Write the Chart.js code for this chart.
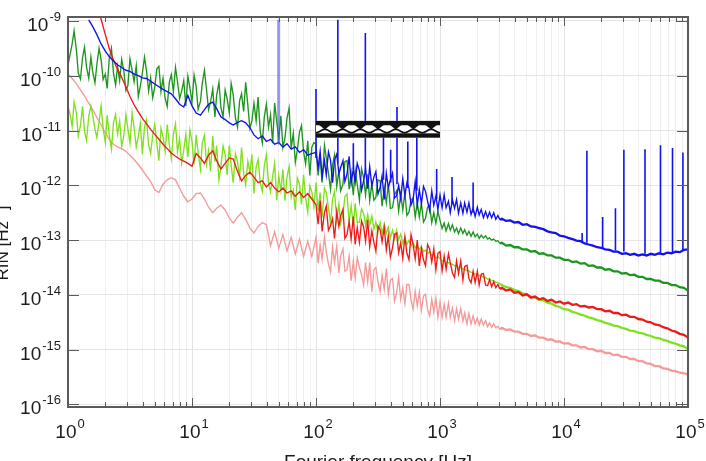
<!DOCTYPE html>
<html>
<head>
<meta charset="utf-8">
<script src="https://cdn.jsdelivr.net/npm/chart.js@4.4.1/dist/chart.umd.min.js"></script>
<style>
  html, body { margin: 0; padding: 0; background: #fff; }
  #wrap { width: 706px; height: 461px; }
</style>
</head>
<body>
<div id="wrap"><canvas id="rin-chart" width="706" height="461"></canvas></div>
<script>
"use strict";

// Fourier frequency grids (Hz)
const freqLowCoarse = [
  1, 1.08, 1.17, 1.26, 1.36, 1.47, 1.58, 1.71, 1.85, 2, 2.15, 2.33, 2.51, 2.71, 2.93, 3.16, 3.41, 3.69, 3.98, 4.3, 4.64, 5.01, 5.41, 5.84, 6.31, 6.81, 7.36, 7.94, 8.58, 9.26,
  10, 10.8, 11.7, 12.6, 13.6, 14.7, 15.8, 17.1, 18.5, 20, 21.5, 23.3, 25.1, 27.1, 29.3, 31.6, 34.1, 36.9, 39.8, 43, 46.4, 50.1, 54.1, 58.4, 63.1, 68.1, 73.6, 79.4, 85.8, 92.6,
];
const freqLowDense = [
  1, 1.04, 1.08, 1.12, 1.17, 1.21, 1.26, 1.31, 1.36, 1.41, 1.47, 1.53, 1.58, 1.65, 1.71, 1.78, 1.85, 1.92, 2, 2.07, 2.15, 2.24, 2.33, 2.42, 2.51, 2.61, 2.71, 2.82, 2.93, 3.04,
  3.16, 3.29, 3.41, 3.55, 3.69, 3.83, 3.98, 4.14, 4.3, 4.47, 4.64, 4.82, 5.01, 5.21, 5.41, 5.62, 5.84, 6.07, 6.31, 6.56, 6.81, 7.08, 7.36, 7.64, 7.94, 8.25, 8.58, 8.91, 9.26, 9.62,
  10, 10.4, 10.8, 11.2, 11.7, 12.1, 12.6, 13.1, 13.6, 14.1, 14.7, 15.3, 15.8, 16.5, 17.1, 17.8, 18.5, 19.2, 20, 20.7, 21.5, 22.4, 23.3, 24.2, 25.1, 26.1, 27.1, 28.2, 29.3, 30.4,
  31.6, 32.9, 34.1, 35.5, 36.9, 38.3, 39.8, 41.4, 43, 44.7, 46.4, 48.2, 50.1, 52.1, 54.1, 56.2, 58.4, 60.7, 63.1, 65.6, 68.1, 70.8, 73.6, 76.4, 79.4, 82.5, 85.8, 89.1, 92.6, 96.2,
];
const freqHigh = [
  100, 104, 108, 112, 117, 121, 126, 131, 136, 141, 147, 153, 158, 165, 171, 178, 185, 192, 200, 207, 215, 224, 233, 242, 251, 261, 271, 282, 293, 304,
  316, 329, 341, 355, 369, 383, 398, 414, 430, 447, 464, 482, 501, 521, 541, 562, 584, 607, 631, 656, 681, 708, 736, 764, 794, 825, 858, 891, 926, 962,
  1000, 1040, 1080, 1120, 1170, 1210, 1260, 1310, 1360, 1410, 1470, 1530, 1580, 1650, 1710, 1780, 1850, 1920, 2000, 2070, 2150, 2240, 2330, 2420, 2510, 2610, 2710, 2820, 2930, 3040,
  3160, 3410, 3690, 3980, 4300, 4640, 5010, 5410, 5840, 6310, 6810, 7360, 7940, 8580, 9260,
  10000, 10800, 11700, 12600, 13600, 14700, 15800, 17100, 18500, 20000, 21500, 23300, 25100, 27100, 29300,
  31600, 34100, 36900, 39800, 43000, 46400, 50100, 54100, 58400, 63100, 68100, 73600, 79400, 85800, 92600, 100000,
];
const freqHz = freqLowCoarse.concat(freqHigh);
const freqHzDense = freqLowDense.concat(freqHigh);

// RIN values, stored as log10(RIN / Hz^-1)
const blueLog = [
  null, null, null, null, null, -8.98, -9.1, -9.25, -9.42, -9.55, -9.65, -9.73, -9.8, -9.85, -9.9, -9.92, -9.97, -10.0, -10.04, -10.05, -10.1, -10.15, -10.2, -10.25, -10.29, -10.33, -10.42, -10.52, -10.57, -10.36,
  -10.55, -10.68, -10.72, -10.62, -10.52, -10.48, -10.6, -10.75, -10.8, -10.86, -10.9, -10.85, -10.82, -10.86, -10.95, -11.08, -11.15, -11.1, -11.2, -11.16, -11.25, -11.22, -11.3, -11.24, -11.34, -11.3, -11.4, -11.35, -11.45, -11.42,
  -11.4, -11.68, -11.38, -11.84, -11.55, -11.81, -11.39, -11.54, -11.95, -11.54, -11.43, -11.79, -11.68, -11.55, -11.93, -11.79, -11.47, -11.96, -11.7, -11.94, -11.6, -11.73, -12.09, -11.92, -11.7, -12.06, -11.66, -12.01, -11.85, -11.75,
  -12.16, -12.04, -11.83, -12.26, -11.78, -12.04, -11.9, -11.78, -12.23, -12.19, -12.0, -12.24, -11.88, -12.19, -11.95, -12.05, -12.36, -12.26, -11.93, -12.36, -12.08, -12.34, -12.02, -12.11, -12.29, -12.46, -12.1, -12.36, -12.2, -12.44,
  -12.18, -12.41, -12.17, -12.41, -12.29, -12.5, -12.26, -12.42, -12.26, -12.51, -12.32, -12.51, -12.32, -12.49, -12.32, -12.53, -12.41, -12.57, -12.4, -12.54, -12.44, -12.59, -12.48, -12.59, -12.49, -12.59, -12.5, -12.62, -12.55, -12.63,
  -12.61, -12.65, -12.64, -12.68, -12.67, -12.72, -12.71, -12.75, -12.76, -12.78, -12.8, -12.84, -12.86, -12.87, -12.92,
  -12.93, -12.96, -12.98, -13.01, -13.02, -13.06, -13.08, -13.1, -13.13, -13.14, -13.17, -13.18, -13.21, -13.21, -13.25,
  -13.24, -13.27, -13.25, -13.28, -13.26, -13.28, -13.25, -13.27, -13.24, -13.26, -13.23, -13.24, -13.21, -13.22, -13.18, -13.17,
];

const greenLog = [
  -9.8, -9.61, -9.42, -9.18, -9.54, -9.95, -10.06, -9.67, -9.48, -9.84, -10.05, -9.66, -9.92, -10.13, -9.79, -9.5, -9.71, -10.07, -9.97, -10.23, -9.69, -9.5, -9.96, -10.17, -9.83, -10.09, -9.7, -9.91, -10.27, -10.18,
  -9.69, -9.9, -10.11, -9.82, -10.38, -10.19, -9.95, -9.66, -9.92, -10.28, -10.04, -10.4, -10.21, -9.87, -9.83, -10.29, -10.05, -10.41, -10.56, -10.12, -9.98, -10.29, -9.85, -10.11, -10.42, -10.28, -10.09, -10.55, -10.01, -10.22,
  -10.48, -9.99, -10.2, -10.61, -10.47, -10.14, -9.9, -10.26, -10.62, -10.48, -10.24, -10.75, -10.36, -10.12, -10.58, -10.75, -10.26, -10.42, -10.68, -10.14,
  -10.35, -10.77, -10.94, -10.46, -10.33, -10.65, -10.12, -10.54, -10.96, -10.83, -10.5, -10.82, -10.39, -11.01, -11.23, -10.75, -10.52, -10.94, -10.71, -11.23,
  -10.5, -10.83, -11.16, -10.73, -11.31, -11.14, -10.77, -10.59, -11.32, -11.05, -11.58, -11.35, -11.03, -10.91, -11.39, -11.61, -11.19, -11.82, -11.3, -11.22,
  -11.25, -11.82, -11.48, -11.95, -11.27, -11.5, -11.78, -12.07, -11.63, -11.45, -12.02, -11.73, -12.1, -11.98, -11.57, -11.55, -12.07, -11.78, -12.18, -11.72, -11.98, -12.27, -11.7, -11.86, -12.18, -11.8, -12.28, -11.97, -12.27, -12.22,
  -11.9, -11.92, -12.38, -12.05, -12.32, -11.98, -12.42, -12.41, -12.17, -12.1, -12.47, -12.16, -12.45, -12.14, -12.55, -12.49, -12.27, -12.23, -12.58, -12.32, -12.58, -12.33, -12.67, -12.6, -12.4, -12.37, -12.68, -12.5, -12.69, -12.48,
  -12.64, -12.79, -12.69, -12.83, -12.7, -12.82, -12.72, -12.85, -12.78, -12.88, -12.78, -12.88, -12.81, -12.91, -12.84, -12.93, -12.85, -12.94, -12.89, -12.97, -12.91, -12.96, -12.92, -12.98, -12.96, -13.0, -12.98, -13.02, -13.01, -13.06,
  -13.05, -13.1, -13.09, -13.13, -13.13, -13.17, -13.17, -13.21, -13.2, -13.25, -13.24, -13.28, -13.28, -13.32, -13.32,
  -13.36, -13.36, -13.4, -13.39, -13.43, -13.42, -13.47, -13.46, -13.5, -13.5, -13.54, -13.53, -13.57, -13.57, -13.61,
  -13.6, -13.64, -13.63, -13.67, -13.67, -13.71, -13.71, -13.74, -13.74, -13.78, -13.78, -13.82, -13.82, -13.86, -13.87, -13.92,
];

const redLog = [
  null, null, null, null, null, null, null, -8.75, -8.97, -9.25, -9.5, -9.72, -9.88, -10.03, -10.2, -10.38, -10.53, -10.66, -10.78, -10.88, -10.98, -11.07, -11.16, -11.25, -11.33, -11.41, -11.47, -11.52, -11.56, -11.6,
  -11.65, -11.42, -11.5, -11.6, -11.45, -11.37, -11.55, -11.7, -11.6, -11.5, -11.52, -11.75, -11.92, -11.82, -11.76, -11.85, -11.95, -11.92, -12.03, -11.95, -12.05, -12.12, -12.05, -12.14, -12.1, -12.2, -12.12, -12.22, -12.15, -12.25,
  -12.35, -12.71, -12.28, -12.84, -12.5, -12.38, -12.82, -12.74, -12.61, -12.97, -12.48, -12.75, -12.56, -12.44, -12.97, -12.9, -12.66, -12.98, -12.57, -13.08, -12.77, -13.04, -12.65, -12.76, -13.02, -12.63, -13.12, -12.83, -13.04, -13.2,
  -12.74, -12.81, -13.03, -12.77, -13.18, -12.92, -13.31, -13.14, -12.89, -12.87, -13.23, -13.05, -13.33, -12.94, -13.24, -13.36, -12.9, -13.08, -13.34, -13.0, -13.47, -13.15, -13.36, -13.47, -13.08, -13.16, -13.4, -13.16, -13.54, -13.24,
  -13.21, -13.56, -13.29, -13.53, -13.25, -13.41, -13.6, -13.68, -13.38, -13.61, -13.38, -13.73, -13.48, -13.46, -13.7, -13.78, -13.57, -13.77, -13.57, -13.82, -13.62, -13.61, -13.82, -13.83, -13.72, -13.85, -13.76, -13.87, -13.81, -13.89,
  -13.87, -13.92, -13.9, -13.96, -13.95, -14.01, -13.99, -14.05, -14.03, -14.08, -14.06, -14.11, -14.09, -14.14, -14.12,
  -14.16, -14.14, -14.18, -14.17, -14.21, -14.2, -14.23, -14.22, -14.26, -14.26, -14.3, -14.29, -14.33, -14.33, -14.37,
  -14.36, -14.4, -14.4, -14.44, -14.45, -14.49, -14.5, -14.54, -14.55, -14.59, -14.61, -14.65, -14.67, -14.71, -14.73, -14.78,
];

const limeLog = [
  -10.55, -10.71, -10.92, -10.48, -10.69, -11.1, -10.91, -10.56, -11.02, -11.18, -10.74, -10.55, -10.71, -10.97, -11.13, -10.84, -10.55, -10.96, -11.22, -10.72, -11.08, -11.34, -10.85, -10.71, -11.07, -10.83, -11.29, -11.1, -10.71, -10.97,
  -11.23, -10.68, -10.94, -11.3, -11.11, -10.87, -11.43, -10.94, -10.8, -11.26, -11.42, -11.08, -10.89, -11.24, -11.55, -10.96, -11.12, -11.38, -10.89, -11.25, -11.51, -11.07, -10.88, -11.39, -11.15, -11.6, -11.36, -11.07, -11.48, -10.99,
  -11.2, -11.62, -11.08, -11.4, -11.71, -11.23, -11.09, -11.61, -11.37, -11.74, -11.1, -11.57, -11.28, -11.9, -11.66, -11.28, -11.44, -11.81, -11.27, -11.64,
  -11.95, -11.42, -11.58, -11.85, -11.31, -11.78, -11.99, -11.56, -11.77, -11.44, -12.15, -11.67, -11.53, -11.95, -12.11, -11.63, -11.44, -11.96, -12.12, -11.84,
  -11.6, -12.27, -11.83, -12.1, -11.71, -12.28, -11.84, -11.66, -12.22, -12.09, -12.45, -11.87, -11.98, -12.35, -11.81, -12.23, -12.49, -12.01, -12.12, -12.39,
  -11.95, -12.46, -12.13, -12.59, -12.05, -12.13, -12.41, -12.69, -12.25, -12.11, -12.63, -12.34, -12.7, -12.53, -12.21, -12.16, -12.67, -12.37, -12.74, -12.33, -12.68, -12.67, -12.43, -12.51, -12.73, -12.53, -12.72, -12.56, -12.8, -12.67,
  -12.86, -12.68, -12.88, -12.7, -12.88, -12.76, -12.96, -12.82, -12.98, -12.82, -12.99, -12.89, -13.06, -12.95, -13.08, -13.0, -13.1, -13.05, -13.14, -13.09, -13.17, -13.12, -13.21, -13.18, -13.25, -13.21, -13.28, -13.26, -13.33, -13.3,
  -13.34, -13.38, -13.37, -13.41, -13.41, -13.44, -13.44, -13.47, -13.47, -13.5, -13.5, -13.53, -13.53, -13.56, -13.56, -13.59, -13.59, -13.62, -13.62, -13.65, -13.65, -13.68, -13.68, -13.71, -13.71, -13.74, -13.74, -13.77, -13.77, -13.8,
  -13.82, -13.86, -13.87, -13.91, -13.93, -13.97, -13.99, -14.03, -14.05, -14.09, -14.1, -14.14, -14.16, -14.2, -14.22,
  -14.26, -14.27, -14.31, -14.33, -14.36, -14.38, -14.41, -14.43, -14.46, -14.48, -14.51, -14.53, -14.56, -14.57, -14.6,
  -14.62, -14.65, -14.66, -14.69, -14.7, -14.73, -14.75, -14.78, -14.79, -14.82, -14.84, -14.87, -14.89, -14.92, -14.94, -14.99,
];

const pinkLog = [
  -9.97, -10.05, -10.15, -10.26, -10.37, -10.5, -10.62, -10.76, -10.9, -11.04, -11.16, -11.25, -11.3, -11.33, -11.38, -11.45, -11.53, -11.62, -11.72, -11.83, -11.93, -12.08, -12.13, -11.98, -11.9, -11.86, -11.9, -12.05, -12.2, -12.3,
  -12.25, -12.15, -12.14, -12.25, -12.4, -12.5, -12.42, -12.36, -12.45, -12.6, -12.69, -12.58, -12.5, -12.62, -12.78, -12.87, -12.75, -12.68, -12.72, -13.1, -12.85, -13.15, -12.9, -13.2, -12.95, -13.25, -12.98, -13.3, -13.02, -13.3,
  -12.95, -13.42, -13.09, -13.35, -12.94, -13.21, -13.44, -13.58, -13.12, -13.41, -13.11, -13.6, -13.29, -13.16, -13.57, -13.54, -13.29, -13.74, -13.38, -13.7, -13.32, -13.5, -13.63, -13.82, -13.41, -13.76, -13.41, -13.94, -13.54, -13.5,
  -13.76, -13.94, -13.64, -13.9, -13.52, -13.99, -13.73, -13.7, -14.11, -13.96, -13.68, -14.08, -13.87, -14.16, -13.81, -13.81, -14.09, -14.26, -13.93, -14.2, -13.95, -14.28, -14.02, -13.99, -14.27, -14.38, -14.08, -14.31, -14.06, -14.41,
  -14.13, -14.41, -14.17, -14.41, -14.15, -14.41, -14.24, -14.47, -14.25, -14.44, -14.25, -14.48, -14.33, -14.53, -14.34, -14.53, -14.38, -14.53, -14.42, -14.55, -14.44, -14.55, -14.47, -14.58, -14.51, -14.59, -14.53, -14.6, -14.57, -14.63,
  -14.6, -14.64, -14.63, -14.67, -14.67, -14.71, -14.71, -14.75, -14.74, -14.78, -14.78, -14.82, -14.81, -14.85, -14.85,
  -14.89, -14.88, -14.92, -14.92, -14.96, -14.95, -14.99, -14.99, -15.03, -15.02, -15.06, -15.06, -15.1, -15.09, -15.13,
  -15.13, -15.17, -15.17, -15.21, -15.21, -15.25, -15.26, -15.3, -15.3, -15.34, -15.35, -15.38, -15.39, -15.42, -15.43, -15.45,
];

// narrow lines on the blue trace (mains harmonics, high-frequency tones)
const spikeHz = [100, 150, 200, 250, 350, 400, 450, 550, 650, 940, 1250, 1850, 14000, 15300, 20500, 26000, 30400, 45000, 60000, 75000, 91000];
const spikeBaseLog = [-11.5, -11.6, -11.7, -11.75, -11.9, -11.95, -11.98, -12.05, -12.1, -12.25, -12.35, -12.5, -13.03, -13.05, -13.15, -13.19, -13.21, -13.25, -13.26, -13.25, -13.2];
const spikeTopLog = [-10.24, -8.98, -11.23, -9.22, -11.1, -11.35, -10.57, -11.2, -11.1, -11.7, -11.85, -11.95, -12.87, -11.37, -12.58, -12.42, -11.35, -11.34, -11.27, -11.32, -11.4];
const mainsHz = [50];
const mainsBaseLog = [-11.25];
const mainsTopLog = [-8.98];

// axis decades
const xTickExp = [0, 1, 2, 3, 4, 5];
const yTickExp = [-9, -10, -11, -12, -13, -14, -15, -16];

// waveguide sketch placed between these data coordinates
const insetHz = [100, 1000];
const insetRin = [1.5e-11, 7.4e-12];

const COLORS = {
  blue: "#1212ee",
  mains: "rgba(70, 70, 240, 0.55)",
  green: "#1e951e",
  red: "#ee1a1a",
  lime: "#80e01e",
  pink: "#f59a9a",
  frame: "#5a5a5a",
  text: "#1c1c1c",
};

function toPoints(freqs, logs) {
  if (logs.length !== freqs.length) {
    console.error("length mismatch", logs.length, freqs.length);
  }
  return freqs.map((f, i) => ({
    x: f,
    y: logs[i] === null || logs[i] === undefined ? null : Math.pow(10, logs[i]),
  }));
}

function toSpikes(freqs, bases, tops) {
  const pts = [];
  freqs.forEach((f, i) => {
    pts.push({ x: f, y: Math.pow(10, bases[i]) });
    pts.push({ x: f, y: Math.pow(10, tops[i]) });
    pts.push({ x: f, y: null });
  });
  return pts;
}

function isDecade(v) {
  const e = Math.log10(v);
  return Math.abs(e - Math.round(e)) < 1e-9;
}

function traceWidth(ctx) {
  return ctx.p0.parsed.x >= 3000 ? 2.3 : 1.35;
}

function trace(label, freqs, logs, color, order) {
  return {
    label,
    data: toPoints(freqs, logs),
    borderColor: color,
    borderWidth: 1.35,
    segment: { borderWidth: traceWidth },
    pointRadius: 0,
    tension: 0,
    spanGaps: false,
    order,
  };
}

const xGridValues = [];
xTickExp.forEach((e, k) => {
  if (k === xTickExp.length - 1) {
    xGridValues.push(Math.pow(10, e));
    return;
  }
  for (let m = 1; m <= 9; m++) xGridValues.push(m * Math.pow(10, e));
});

function line(ctx, x1, y1, x2, y2) {
  ctx.beginPath();
  ctx.moveTo(x1, y1);
  ctx.lineTo(x2, y2);
  ctx.stroke();
}

function drawPower(ctx, exp, x, y, align) {
  const base = "10";
  const sup = String(exp);
  ctx.font = "19px 'Liberation Sans', Arial, sans-serif";
  const wb = ctx.measureText(base).width;
  ctx.font = "13px 'Liberation Sans', Arial, sans-serif";
  const we = ctx.measureText(sup).width;
  const total = wb + we + 1;
  let left = x - total / 2;
  if (align === "right") left = x - total;
  ctx.textAlign = "left";
  ctx.textBaseline = "alphabetic";
  ctx.font = "19px 'Liberation Sans', Arial, sans-serif";
  ctx.fillText(base, left, y);
  ctx.font = "13px 'Liberation Sans', Arial, sans-serif";
  ctx.fillText(sup, left + wb + 1, y - 10);
}

function drawInset(ctx, xs, ys) {
  const x0 = xs.getPixelForValue(insetHz[0]);
  const x1 = xs.getPixelForValue(insetHz[1]);
  const y0 = ys.getPixelForValue(insetRin[0]);
  const y1 = ys.getPixelForValue(insetRin[1]);
  const w = x1 - x0;
  const h = y1 - y0;
  const period = w / 7;
  ctx.save();
  ctx.fillStyle = "#ffffff";
  ctx.fillRect(x0, y0, w, h);
  ctx.fillStyle = "#111";
  ctx.fillRect(x0, y0, w, h * 0.26);
  ctx.fillRect(x0, y1 - h * 0.26, w, h * 0.26);
  // teeth hanging from the top cladding
  for (let k = 0; k < 7; k++) {
    const cx = x0 + (k + 0.5) * period;
    ctx.beginPath();
    ctx.moveTo(cx - period * 0.32, y0 + h * 0.25);
    ctx.lineTo(cx + period * 0.32, y0 + h * 0.25);
    ctx.lineTo(cx, y0 + h * 0.52);
    ctx.closePath();
    ctx.fill();
  }
  // corrugated core line
  ctx.strokeStyle = "#111";
  ctx.lineWidth = 1.8;
  ctx.beginPath();
  const steps = 140;
  for (let s = 0; s <= steps; s++) {
    const px = x0 + (w * s) / steps;
    const ph = ((px - x0) / period) * Math.PI * 2;
    const py = y0 + h * 0.6 + Math.cos(ph) * h * 0.1;
    if (s === 0) ctx.moveTo(px, py);
    else ctx.lineTo(px, py);
  }
  ctx.stroke();
  ctx.restore();
}

const decorPlugin = {
  id: "decor",
  afterDatasetsDraw(chart) {
    const { ctx, scales } = chart;
    drawInset(ctx, scales.x, scales.y);
  },
  afterDraw(chart) {
    const { ctx, chartArea: a, scales } = chart;
    const xs = scales.x;
    const ys = scales.y;
    ctx.save();

    // inward tick marks
    ctx.strokeStyle = COLORS.frame;
    ctx.lineWidth = 1;
    xGridValues.forEach((v) => {
      const px = Math.round(xs.getPixelForValue(v)) + 0.5;
      const len = isDecade(v) ? 9 : 5;
      line(ctx, px, a.bottom, px, a.bottom - len);
      line(ctx, px, a.top, px, a.top + len);
    });
    yTickExp.forEach((e) => {
      const py = Math.round(ys.getPixelForValue(Math.pow(10, e))) + 0.5;
      line(ctx, a.left, py, a.left + 11, py);
      line(ctx, a.right, py, a.right - 11, py);
    });

    // frame
    ctx.lineWidth = 2;
    ctx.strokeRect(a.left, a.top, a.right - a.left, a.bottom - a.top);

    // tick labels
    ctx.fillStyle = COLORS.text;
    xTickExp.forEach((e) => {
      const px = xs.getPixelForValue(Math.pow(10, e));
      drawPower(ctx, e, px + 2, a.bottom + 31, "center");
    });
    yTickExp.forEach((e) => {
      const py = ys.getPixelForValue(Math.pow(10, e));
      drawPower(ctx, e, a.left - 7, py + 10, "right");
    });

    // axis titles (partly outside the canvas, as in the source figure)
    ctx.font = "19px 'Liberation Sans', Arial, sans-serif";
    ctx.textAlign = "center";
    ctx.textBaseline = "top";
    ctx.fillText("Fourier frequency [Hz]", (a.left + a.right) / 2, 453);

    ctx.save();
    ctx.translate(8, 243);
    ctx.rotate(-Math.PI / 2);
    ctx.textBaseline = "alphabetic";
    ctx.textAlign = "left";
    ctx.font = "17px 'Liberation Sans', Arial, sans-serif";
    const p1 = "RIN [Hz";
    const p2 = "-1";
    const p3 = "]";
    const w1 = ctx.measureText(p1).width;
    const w3 = ctx.measureText(p3).width;
    ctx.font = "12px 'Liberation Sans', Arial, sans-serif";
    const w2 = ctx.measureText(p2).width;
    const sx = -(w1 + w2 + w3) / 2;
    ctx.font = "17px 'Liberation Sans', Arial, sans-serif";
    ctx.fillText(p1, sx, 0);
    ctx.font = "12px 'Liberation Sans', Arial, sans-serif";
    ctx.fillText(p2, sx + w1, -8);
    ctx.font = "17px 'Liberation Sans', Arial, sans-serif";
    ctx.fillText(p3, sx + w1 + w2, 0);
    ctx.restore();

    ctx.restore();
  },
};

const chart = new Chart(document.getElementById("rin-chart"), {
  type: "line",
  data: {
    datasets: [
      {
        label: "mains",
        data: toSpikes(mainsHz, mainsBaseLog, mainsTopLog),
        borderColor: COLORS.mains,
        borderWidth: 3,
        pointRadius: 0,
        spanGaps: false,
        order: 0,
      },
      {
        label: "tones",
        data: toSpikes(spikeHz, spikeBaseLog, spikeTopLog),
        borderColor: COLORS.blue,
        borderWidth: 1.6,
        pointRadius: 0,
        spanGaps: false,
        order: 0,
      },
      trace("blue", freqHz, blueLog, COLORS.blue, 1),
      trace("red", freqHz, redLog, COLORS.red, 2),
      trace("green", freqHzDense, greenLog, COLORS.green, 3),
      trace("lime", freqHzDense, limeLog, COLORS.lime, 4),
      trace("pink", freqHz, pinkLog, COLORS.pink, 5),
    ],
  },
  options: {
    responsive: false,
    devicePixelRatio: 1,
    animation: false,
    layout: { padding: { left: 68, right: 18, top: 17, bottom: 54 } },
    plugins: {
      legend: { display: false },
      tooltip: { enabled: false },
    },
    scales: {
      x: {
        type: "logarithmic",
        min: 1,
        max: 1e5,
        afterBuildTicks: (axis) => {
          axis.ticks = xGridValues.map((v) => ({ value: v }));
        },
        ticks: { display: false },
        border: { display: false },
        grid: {
          drawTicks: false,
          color: (c) => (c.tick && isDecade(c.tick.value) ? "#e2e2e2" : "#eeeeee"),
        },
      },
      y: {
        type: "logarithmic",
        min: 9.2e-17,
        max: 1.18e-9,
        afterBuildTicks: (axis) => {
          axis.ticks = yTickExp.map((e) => ({ value: Math.pow(10, e) }));
        },
        ticks: { display: false },
        border: { display: false },
        grid: { drawTicks: false, color: "#e6e6e6" },
      },
    },
  },
  plugins: [decorPlugin],
});
</script>
</body>
</html>
